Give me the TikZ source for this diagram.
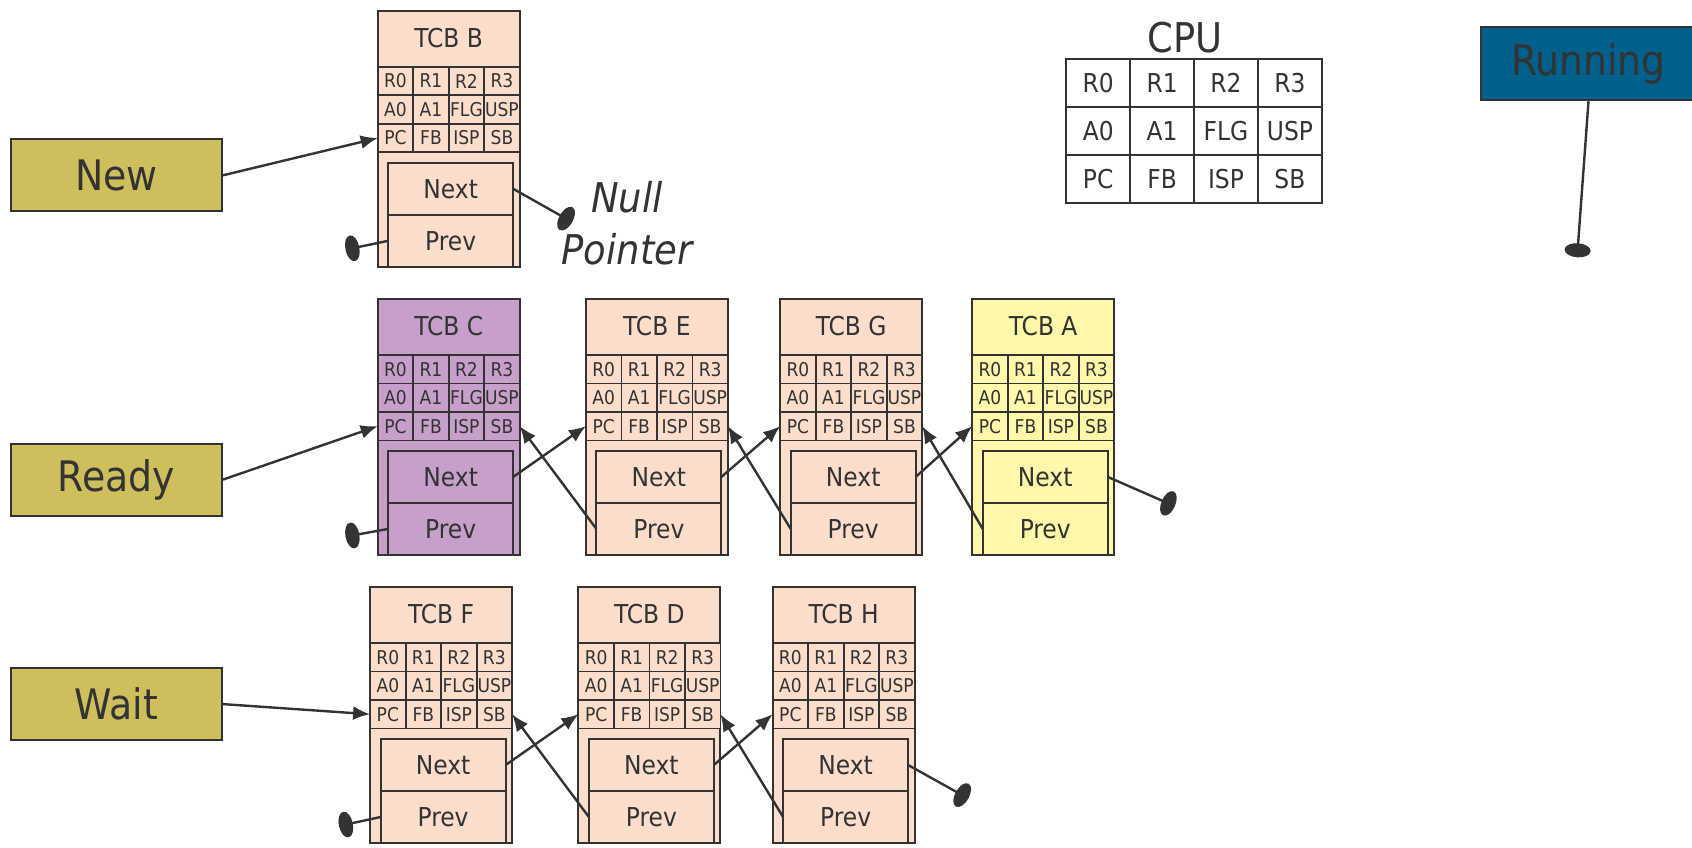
\documentclass[tikz,border=0pt]{standalone}
\usepackage{fontspec}
\setmainfont{DejaVu Sans Condensed}
\usetikzlibrary{arrows.meta}

\definecolor{ink}{RGB}{51,51,51}
\definecolor{peach}{RGB}{251,221,202}
\definecolor{lilac}{RGB}{198,160,202}
\definecolor{lemon}{RGB}{255,247,170}
\definecolor{olive}{RGB}{204,191,92}
\definecolor{runblue}{RGB}{0,96,142}

\begin{document}
\begin{tikzpicture}[
  x=1pt, y=-1pt,
  every node/.style={text=ink},
  listhead/.style={draw=ink,line width=2pt,fill=olive,minimum width=211pt,minimum height=72pt,inner sep=0pt,font=\fontsize{42}{50}\selectfont},
  tcb/.style={draw=ink,line width=2pt,minimum width=142pt,minimum height=256pt,inner sep=0pt,outer sep=0pt},
  tcbtitle/.style={font=\fontsize{26}{31}\selectfont},
  reg/.style={draw=ink,line width=1.8pt,minimum width=35.5pt,minimum height=28.5pt,inner sep=0pt,outer sep=0pt,font=\fontsize{19}{22}\selectfont},
  field/.style={draw=ink,line width=2pt,minimum width=125pt,minimum height=52pt,inner sep=0pt,outer sep=0pt,font=\fontsize{26}{31}\selectfont},
  cpureg/.style={draw=ink,line width=2pt,minimum width=64pt,minimum height=47.8pt,inner sep=0pt,outer sep=0pt,font=\fontsize{26}{31}\selectfont},
  link/.style={-{Latex[length=17pt,width=14pt]},line width=2.4pt,draw=ink},
  nullptr/.style={-{Ellipse[length=14pt,width=26pt]},line width=2.4pt,draw=ink}
]
  \useasboundingbox (0,0) rectangle (1692,848);

  % queue heads
  \node[listhead] (new) at (116.5,175.3) {New};
  \node[listhead] (ready) at (116.5,479.6) {Ready};
  \node[listhead] (wait) at (116.5,704.1) {Wait};
  \node[listhead,fill=runblue,minimum width=215pt,minimum height=73pt] (running) at (1588.5,63.7) {Running};

  % task control blocks
  \foreach \n/\x/\y/\c in {B/377.7/10.8/peach, C/377.7/298.9/lilac, E/585.9/298.9/peach,
      G/780.2/298.9/peach, A/972.2/298.9/lemon, F/370.1/587/peach, D/578.4/587/peach, H/772.6/587/peach}{
    \node[tcb,fill=\c,anchor=north west] (\n) at (\x,\y) {};
    \node[tcbtitle] (\n-title) at ([yshift=-27pt]\n.north) {TCB \n};
    \foreach \r [count=\k from 0] in {R0,R1,R2,R3,A0,A1,FLG,USP,PC,FB,ISP,SB}{
      \pgfmathtruncatemacro{\col}{mod(\k,4)}
      \pgfmathtruncatemacro{\row}{\k/4}
      \node[reg,fill=\c,anchor=north west] (\n-\r) at ([xshift=\col*35.5pt,yshift=-56pt-\row*28.5pt]\n.north west) {\r};
    }
    \node[field,fill=\c,anchor=north west] (\n-next) at ([xshift=10.5pt,yshift=-152pt]\n.north west) {Next};
    \node[field,fill=\c,anchor=north] (\n-prev) at (\n-next.south) {Prev};
  }

  % CPU registers
  \node[font=\fontsize{41}{49}\selectfont] (cpu) at (1184.8,37.8) {CPU};
  \foreach \r [count=\k from 0] in {R0,R1,R2,R3,A0,A1,FLG,USP,PC,FB,ISP,SB}{
    \pgfmathtruncatemacro{\col}{mod(\k,4)}
    \pgfmathtruncatemacro{\row}{\k/4}
    \node[cpureg,anchor=north west] (cpu-\r) at (1066.2+\col*63.9,59.4+\row*47.8) {\r};
  }

  \node[font=\itshape\fontsize{41}{52}\selectfont,align=center] (nulltext) at (627,223) {Null\\Pointer};

  % free ends
  \coordinate (B-nextend) at (572.2,222.1);
  \coordinate (B-prevend) at (345.5,249.7);
  \coordinate (C-prevend) at (345.5,536.7);
  \coordinate (A-nextend) at (1174.8,506.2);
  \coordinate (F-prevend) at (339,826);
  \coordinate (H-nextend) at (968.3,798.5);
  \coordinate (running-end) at (1577.1,257.3);

  \draw[link] (new.east) -- (B-PC.west);
  \draw[link] (ready.east) -- (C-PC.west);
  \draw[link] (wait.east) -- (F-PC.west);

  \draw[link] (C-next.east) -- (E-PC.west);
  \draw[link] (E-next.east) -- (G-PC.west);
  \draw[link] (G-next.east) -- (A-PC.west);
  \draw[link] (E-prev.west) -- (C-SB.east);
  \draw[link] (G-prev.west) -- (E-SB.east);
  \draw[link] (A-prev.west) -- (G-SB.east);

  \draw[link] (F-next.east) -- (D-PC.west);
  \draw[link] (D-next.east) -- (H-PC.west);
  \draw[link] (D-prev.west) -- (F-SB.east);
  \draw[link] (H-prev.west) -- (D-SB.east);

  \draw[nullptr] (B-next.east) -- (B-nextend);
  \draw[nullptr] (B-prev.west) -- (B-prevend);
  \draw[nullptr] (C-prev.west) -- (C-prevend);
  \draw[nullptr] (A-next.east) -- (A-nextend);
  \draw[nullptr] (F-prev.west) -- (F-prevend);
  \draw[nullptr] (H-next.east) -- (H-nextend);
  \draw[nullptr] (running.south) -- (running-end);
\end{tikzpicture}
\end{document}
